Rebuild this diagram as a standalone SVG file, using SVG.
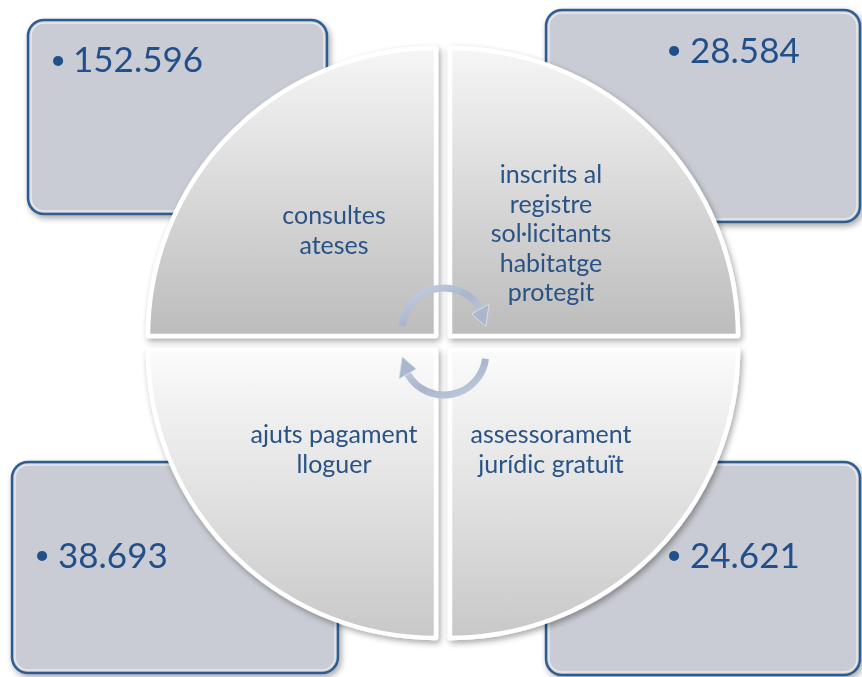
<svg xmlns="http://www.w3.org/2000/svg" width="862" height="677" viewBox="0 0 862 677">
<defs>
<style>
.box{fill:#c9ccd4;stroke:#2f5c91;stroke-width:2.5}
.bevel{fill:none;stroke:#ffffff;stroke-opacity:0.55;stroke-width:1.5}
.num{font-family:Lato,"Open Sans","Liberation Sans",sans-serif;font-size:35px;fill:#24508a}
.bul{font-family:Lato,"Open Sans","Liberation Sans",sans-serif;font-size:27px;fill:#24508a;text-anchor:middle}
.lbl{font-family:Lato,"Open Sans","Liberation Sans",sans-serif;font-size:25px;fill:#2a5285;text-anchor:middle}
.quad{stroke:#ffffff;stroke-width:4.5;stroke-linejoin:round}
.arc{fill:none;stroke:url(#arrowGrad);stroke-width:7}
.head{fill:#a9b6cc;stroke:#dfe5ef;stroke-width:0.8}
</style>
<linearGradient id="gTop" x1="0" y1="48" x2="0" y2="336" gradientUnits="userSpaceOnUse">
<stop offset="0" stop-color="#f6f6f6"/>
<stop offset="1" stop-color="#bcbcbc"/>
</linearGradient>
<linearGradient id="gBot" x1="0" y1="350" x2="0" y2="638" gradientUnits="userSpaceOnUse">
<stop offset="0" stop-color="#fbfbfb"/>
<stop offset="1" stop-color="#c8c8c8"/>
</linearGradient>
<linearGradient id="arrowGrad" x1="0" y1="0" x2="1" y2="1">
<stop offset="0" stop-color="#c9d3e4"/>
<stop offset="0.5" stop-color="#a8b5cc"/>
<stop offset="1" stop-color="#c4cee0"/>
</linearGradient>
<filter id="shadow" x="-10%" y="-10%" width="125%" height="125%">
<feGaussianBlur in="SourceAlpha" stdDeviation="3"/>
<feOffset dx="2" dy="3" result="b"/>
<feComponentTransfer><feFuncA type="linear" slope="0.35"/></feComponentTransfer>
<feMerge><feMergeNode/><feMergeNode in="SourceGraphic"/></feMerge>
</filter>
</defs>
<rect width="862" height="677" fill="#ffffff"/>

<g id="box-tl" filter="url(#shadow)">
<rect class="box" x="28" y="20" width="299" height="194" rx="16"/>
<rect class="bevel" x="31" y="23" width="293" height="188" rx="13"/>
<text class="bul" x="58" y="69">•</text>
<text class="num" x="73" y="72">152.596</text>
</g>
<g id="box-tr" filter="url(#shadow)">
<rect class="box" x="546" y="10" width="314" height="212" rx="16"/>
<rect class="bevel" x="549" y="13" width="308" height="206" rx="13"/>
<text class="bul" x="674" y="59">•</text>
<text class="num" x="690" y="63">28.584</text>
</g>
<g id="box-bl" filter="url(#shadow)">
<rect class="box" x="12" y="462" width="326" height="211" rx="16"/>
<rect class="bevel" x="15" y="465" width="320" height="205" rx="13"/>
<text class="bul" x="42" y="564">•</text>
<text class="num" x="58" y="568">38.693</text>
</g>
<g id="box-br" filter="url(#shadow)">
<rect class="box" x="546" y="462" width="314" height="213" rx="16"/>
<rect class="bevel" x="549" y="465" width="308" height="207" rx="13"/>
<text class="bul" x="674" y="564">•</text>
<text class="num" x="690" y="568">24.621</text>
</g>

<g id="quad-tl" filter="url(#shadow)">
<path class="quad" fill="url(#gTop)" d="M436,336 L148,336 A288,288 0 0 1 436,48 Z"/>
<text class="lbl" x="334" y="224">consultes</text>
<text class="lbl" x="334" y="253.5">ateses</text>
</g>
<g id="quad-tr" filter="url(#shadow)">
<path class="quad" fill="url(#gTop)" d="M450,336 L450,48 A288,288 0 0 1 738,336 Z"/>
<text class="lbl" x="551" y="183">inscrits al</text>
<text class="lbl" x="551" y="212.5">registre</text>
<text class="lbl" x="551" y="242">sol·licitants</text>
<text class="lbl" x="551" y="271.5">habitatge</text>
<text class="lbl" x="551" y="301">protegit</text>
</g>
<g id="quad-bl" filter="url(#shadow)">
<path class="quad" fill="url(#gBot)" d="M436,350 L436,638 A288,288 0 0 1 148,350 Z"/>
<text class="lbl" x="334" y="443">ajuts pagament</text>
<text class="lbl" x="334" y="472.5">lloguer</text>
</g>
<g id="quad-br" filter="url(#shadow)">
<path class="quad" fill="url(#gBot)" d="M450,350 L738,350 A288,288 0 0 1 450,638 Z"/>
<text class="lbl" x="551" y="443">assessorament</text>
<text class="lbl" x="551" y="472.5">jurídic gratuït</text>
</g>

<g id="connectors">
<path class="arc" d="M402.2,326.3 A42,42 0 0 1 480.4,309"/>
<polygon class="head" points="489.1,304 471.7,314 485.8,326.3"/>
<path class="arc" d="M485.6,358.8 A42,42 0 0 1 407.6,374"/>
<polygon class="head" points="398.9,379 416.3,369 402.2,356.7"/>
</g>
</svg>
